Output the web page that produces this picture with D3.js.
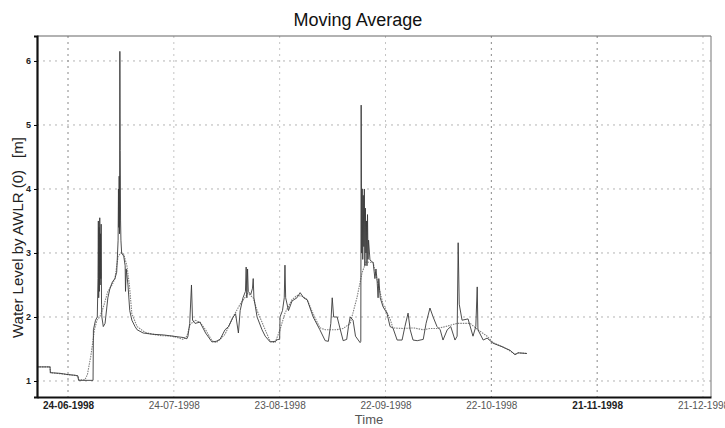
<!DOCTYPE html>
<html>
<head>
<meta charset="utf-8">
<script src="https://cdn.jsdelivr.net/npm/d3@7"></script>
<style>
  body { margin: 0; background: #fff; }
  svg { font-family: "Liberation Sans", Arial, sans-serif; }
</style>
</head>
<body>
<script>
// day offsets are counted from 24-06-1998
var tickLabels = ["24-06-1998", "24-07-1998", "23-08-1998", "22-09-1998", "22-10-1998", "21-11-1998", "21-12-1998"];
var tickDays = [0, 30, 60, 90, 120, 150, 180];
var levelTicks = [1, 2, 3, 4, 5, 6];

var rawDays = [-8.8, -5.1, -5.0, -2.3, 0, 2.0, 2.8, 3.0, 7.1, 7.2, 7.8, 8.3,
  8.5, 8.6, 8.7, 8.8, 8.9, 9.0, 9.1, 9.2, 9.3, 9.4, 9.5, 9.6,
  10.0, 10.5, 11.3, 11.9, 12.6, 13.3, 13.8,
  14.2, 14.3, 14.4, 14.5, 14.6, 14.7, 14.8, 14.9, 15.0, 15.2,
  15.8, 16.2, 16.3, 16.5, 17.0, 17.5, 18.1, 19.0, 19.6, 21.3, 24.0, 27.0, 29.8, 32.6, 33.7,
  34.0, 34.5, 35.0, 35.3, 36.0, 37.4, 39.0, 40.8, 42.0, 43.1, 44.5, 45.5, 46.8, 47.5, 48.3,
  48.8, 49.6, 50.3, 50.5, 50.7, 50.9, 51.1, 51.8, 52.3, 52.5, 52.7, 53.6, 55.0, 55.9, 57.3,
  58.7, 59.5, 60.0, 60.1, 60.8, 61.3, 61.5, 61.7, 62.5, 63.5, 64.9, 65.8, 66.8, 67.8, 69.5,
  71.4, 72.9, 73.8, 74.5, 74.9, 75.3, 76.3, 77.2, 78.0, 79.0, 79.5, 80.0, 80.8, 81.5, 82.8, 83.0,
  83.1, 83.25, 83.4, 83.55, 83.7, 83.85, 84.0, 84.15, 84.3, 84.45, 84.6, 84.75, 84.9, 85.05, 85.2, 85.6,
  86.5, 87.0, 87.3, 87.6, 87.9, 88.1, 88.5, 89.3, 90.4, 91.3, 92.1, 93.3, 94.7, 95.5, 96.4, 97.0,
  97.8, 99.0, 100.7, 101.5, 102.6, 103.5, 104.6, 105.5, 106.3, 107.5, 108.5, 109.7, 110.3, 110.6,
  110.9, 111.7, 113.4, 114.8, 115.6, 116.0, 116.2, 117.7, 118.8, 120.5, 123.3, 125.3, 126.7, 127.6, 130.1];
var rawLevel = [1.22, 1.22, 1.13, 1.12, 1.10, 1.09, 1.08, 1.01, 1.01, 1.80, 1.95, 2.0,
  2.6, 3.5, 2.3, 3.4, 2.4, 3.55, 2.5, 3.3, 2.6, 3.45, 2.2, 2.0,
  1.85, 1.9, 2.3, 2.45, 2.55, 2.6, 2.7,
  3.2, 4.0, 3.4, 4.2, 3.3, 6.15, 4.6, 3.5, 3.2, 3.0,
  2.95, 2.8, 2.4, 2.75, 2.5, 2.1, 1.95, 1.85, 1.8, 1.75, 1.73, 1.72, 1.70, 1.68, 1.66,
  1.7, 1.9, 2.5, 1.95, 1.9, 1.92, 1.75, 1.61, 1.62, 1.65, 1.8, 1.85, 2.0, 2.05, 1.75,
  2.1, 2.3, 2.4, 2.78, 2.3, 2.75, 2.4, 2.35, 2.45, 2.6, 2.3, 2.0, 1.8, 1.7, 1.61,
  1.62, 1.65, 1.65, 2.0, 2.1, 2.3, 2.81, 2.3, 2.1, 2.25, 2.3, 2.38, 2.3, 2.27, 2.0,
  1.8, 1.63, 1.62, 1.9, 2.3, 2.0, 2.0, 1.8, 1.63, 1.65, 1.85, 2.0, 1.95, 1.7, 1.6, 1.62,
  5.31, 3.0, 4.0, 2.9, 3.9, 3.1, 4.0, 2.8, 3.7, 3.0, 3.5, 2.8, 3.6, 2.9, 3.2, 2.89,
  2.85, 2.6, 2.75, 2.58, 2.3, 2.6, 2.3, 2.16, 2.06, 1.85, 1.83, 1.64, 1.64, 1.85, 2.06, 1.8,
  1.64, 1.63, 1.65, 1.9, 2.14, 2.0, 1.85, 1.8, 1.64, 1.8, 1.85, 1.64, 1.7, 3.16,
  2.2, 1.95, 1.97, 1.7, 1.85, 2.47, 1.8, 1.64, 1.67, 1.59, 1.53, 1.48, 1.41, 1.44, 1.43];

var avgDays = [-8.8, -5.1, -5.0, 0, 2.8, 3.0, 4.8, 5.5, 6.5, 7.5, 8.2, 9.0, 10.0, 11.3, 12.5, 13.3,
  14.2, 15.0, 15.8, 16.7, 17.4, 18.1, 19.6, 21.3, 22.4, 26.0, 29.8, 32.6, 33.7, 34.6, 36.0, 37.4,
  39.0, 40.8, 42.0, 43.1, 44.5, 45.1, 46.8, 48.8, 51.0, 52.5, 53.6, 55.9, 57.3, 58.7, 60.1, 61.5,
  63.5, 65.0, 66.5, 67.8, 69.5, 71.4, 73.0, 76.0, 78.0, 80.0, 81.9, 83.4, 84.5, 86.5, 87.6, 89.3,
  91.3, 92.1, 95.0, 98.0, 100.7, 102.6, 104.6, 107.0, 110.3, 114.0, 116.2, 118.8, 120.5, 123.3,
  125.3, 126.7, 127.6, 130.1];
var avgLevel = [1.22, 1.22, 1.13, 1.10, 1.08, 1.02, 1.02, 1.1, 1.4, 1.8, 1.95, 2.0, 2.15, 2.4, 2.5, 2.6,
  2.95, 3.0, 2.98, 2.8, 2.5, 2.05, 1.85, 1.78, 1.75, 1.71, 1.70, 1.65, 1.7, 1.88, 1.95, 1.92,
  1.8, 1.63, 1.6, 1.65, 1.73, 1.8, 2.0, 2.2, 2.37, 2.3, 2.1, 1.8, 1.62, 1.6, 1.8, 2.06,
  2.27, 2.34, 2.32, 2.27, 2.05, 1.83, 1.8, 1.8, 1.82, 1.9, 2.3, 2.7, 2.86, 2.85, 2.58, 2.2,
  1.97, 1.83, 1.82, 1.83, 1.8, 1.82, 1.82, 1.85, 1.9, 1.9, 1.8, 1.7, 1.6, 1.53,
  1.47, 1.42, 1.44, 1.43];

var base = new Date(Date.UTC(1998, 5, 24));
function dayToDate(d) { return new Date(base.getTime() + d * 864e5); }

var W = 725, H = 428;
var plotLeft = 37, plotRight = 711, plotTop = 36, plotBottom = 397;

var svg = d3.select("body").append("svg").attr("width", W).attr("height", H);

var x = d3.scaleUtc()
  .domain([dayToDate(-8.79), dayToDate(182.27)])
  .range([plotLeft, plotRight]);
var y = d3.scaleLinear().domain([0.75, 6.39]).range([plotBottom, plotTop]);

// grid, faint dotted like the scan
svg.append("g").selectAll("line").data(levelTicks).enter().append("line")
  .attr("x1", plotLeft).attr("x2", plotRight)
  .attr("y1", function(d){ return y(d); }).attr("y2", function(d){ return y(d); })
  .attr("stroke", "#b4b4b4").attr("stroke-width", 1).attr("stroke-dasharray", "2,4");
svg.append("g").selectAll("line").data(tickDays).enter().append("line")
  .attr("x1", function(d){ return x(dayToDate(d)); }).attr("x2", function(d){ return x(dayToDate(d)); })
  .attr("y1", plotTop).attr("y2", plotBottom)
  .attr("stroke", function(d, i){ return (i == 0 || i == 4 || i == 5) ? "#888" : "#c4c4c4"; })
  .attr("stroke-width", 1).attr("stroke-dasharray", "2,4");

// series
var avgPts = avgDays.map(function(d, i){ return [dayToDate(d), avgLevel[i]]; });
var rawPts = rawDays.map(function(d, i){ return [dayToDate(d), rawLevel[i]]; });
var line = d3.line().x(function(d){ return x(d[0]); }).y(function(d){ return y(d[1]); });

svg.append("path").attr("d", line(avgPts))
  .attr("fill", "none").attr("stroke", "#808080").attr("stroke-width", 1.1)
  .attr("stroke-dasharray", "1.5,1");
svg.append("path").attr("d", line(rawPts))
  .attr("fill", "none").attr("stroke", "#3a3a3a").attr("stroke-width", 0.9);

// frame
svg.append("line").attr("x1", plotLeft).attr("x2", plotRight).attr("y1", plotTop).attr("y2", plotTop)
  .attr("stroke", "#666").attr("stroke-width", 1.2);
svg.append("line").attr("x1", plotRight).attr("x2", plotRight).attr("y1", plotTop).attr("y2", plotBottom)
  .attr("stroke", "#777").attr("stroke-width", 1);

// axes
var yAxis = d3.axisLeft(y).tickValues(levelTicks).tickSize(3).tickFormat(d3.format("d"));
var gy = svg.append("g").attr("transform", "translate(" + plotLeft + ",0)").call(yAxis);
gy.select(".domain").attr("stroke", "#111").attr("stroke-width", 2.2);
gy.selectAll("text").attr("font-size", 9).attr("font-weight", "bold").attr("fill", "#222");

var xAxis = d3.axisBottom(x)
  .tickValues(tickDays.map(dayToDate)).tickSize(0).tickPadding(5)
  .tickFormat(function(d, i){ return tickLabels[i]; });
var gx = svg.append("g").attr("transform", "translate(0," + plotBottom + ")").call(xAxis);
gx.select(".domain").attr("stroke", "#111").attr("stroke-width", 2.2);
gx.selectAll("text").attr("font-size", 10)
  .attr("font-weight", function(d, i){ return (i == 0 || i == 5) ? "bold" : "normal"; })
  .attr("fill", function(d, i){ return (i == 0 || i == 5) ? "#222" : "#555"; });

// titles
svg.append("text").attr("x", 358).attr("y", 26).attr("text-anchor", "middle")
  .attr("font-size", 18).attr("fill", "#111").text("Moving Average");
svg.append("text").attr("x", 369).attr("y", 424).attr("text-anchor", "middle")
  .attr("font-size", 13).attr("fill", "#555").text("Time");
var ylab = svg.append("text").attr("transform", "translate(23,338) rotate(-90)")
  .attr("font-size", 15).attr("fill", "#222").text("Water Level by AWLR (0)");
ylab.append("tspan").attr("dx", 12).text("[m]");
</script>
</body>
</html>
